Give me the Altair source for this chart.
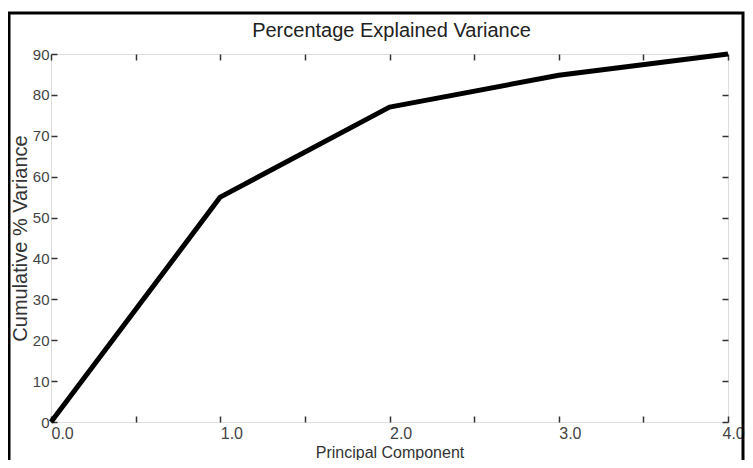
import altair as alt
import pandas as pd

# Data
components = [0, 1, 2, 3, 4]
cum_variance = [0, 55, 77, 84.8, 90]
x_tick_values = [0, 0.5, 1, 1.5, 2, 2.5, 3, 3.5, 4]
y_tick_values = [0, 10, 20, 30, 40, 50, 60, 70, 80, 90]
chart_title = ["Percentage Explained Variance"]

df = pd.DataFrame({"pc": components, "cv": cum_variance})

W, H = 677, 368
FONT = "Liberation Sans"
LABEL_COLOR = "#444444"
AXIS_COLOR = "#333333"

xs = alt.Scale(domain=[0, 4], nice=False, zero=False)
ys = alt.Scale(domain=[0, 90], nice=False)

base = alt.Chart(df)

line = base.mark_line(color="black", strokeWidth=5, strokeJoin="round").encode(
    x=alt.X("pc:Q", scale=xs, axis=alt.Axis(
        orient="bottom", values=x_tick_values,
        labelExpr="datum.value % 1 == 0 ? format(datum.value, '.1f') : ''",
        labelOverlap=False, ticks=False, domain=False, grid=False,
        labelFontSize=16, labelColor=LABEL_COLOR, labelFont=FONT, labelPadding=3,
        labelFlush=False, labelAlign="left",
        labelOffset={"condition": {"test": "datum.value == 4", "value": -6}, "value": 0},
        title="Principal Component", titleFontSize=16, titleFont=FONT,
        titleFontWeight="normal", titleColor="#333333", titlePadding=3)),
    y=alt.Y("cv:Q", scale=ys, axis=alt.Axis(
        orient="left", values=y_tick_values, ticks=False, domain=False, grid=False,
        labelFontSize=15, labelColor=LABEL_COLOR, labelFont=FONT, labelPadding=2,
        labelFlush=False, labelOverlap=False,
        title="Cumulative % Variance", titleFontSize=20, titleFont=FONT,
        titleFontWeight="normal", titleColor="#333333", titlePadding=2)),
)

tick_style = dict(labels=False, domain=False, grid=False, ticks=True, tickSize=6,
                  tickColor=AXIS_COLOR, tickWidth=1.5, title=None)

# inward ticks on bottom and left edges
ticks_a = base.mark_line(opacity=0).encode(
    x=alt.X("pc:Q", scale=xs, axis=alt.Axis(orient="top", offset=-H,
                                             values=x_tick_values, **tick_style)),
    y=alt.Y("cv:Q", scale=ys, axis=alt.Axis(orient="right", offset=-W,
                                             values=y_tick_values, **tick_style)),
)

# inward ticks on top and right edges
ticks_b = base.mark_line(opacity=0).encode(
    x=alt.X("pc:Q", scale=xs, axis=alt.Axis(orient="bottom", offset=-H,
                                             values=x_tick_values, **tick_style)),
    y=alt.Y("cv:Q", scale=ys, axis=alt.Axis(orient="left", offset=-W,
                                             values=y_tick_values, **tick_style)),
)

frame = alt.Chart(pd.DataFrame({"k": [0]})).mark_rect(
    filled=False, stroke="black", strokeWidth=3, clip=False
).encode(
    x=alt.value(-42), x2=alt.value(692), y=alt.value(-41), y2=alt.value(412)
)

title_text = alt.Chart(pd.DataFrame({"t": chart_title})).mark_text(
    font=FONT, fontSize=20, color="#222222", align="center",
    baseline="alphabetic", clip=False
).encode(text="t:N", x=alt.value(W / 2 + 2), y=alt.value(-17))

chart = alt.layer(line, ticks_a, ticks_b, frame, title_text).resolve_axis(
    x="independent", y="independent"
).properties(
    width=W, height=H,
    autosize=alt.AutoSizeParams(type="none"),
    padding={"left": 43, "top": 46, "right": 17, "bottom": 38},
).configure_view(
    stroke=AXIS_COLOR, strokeWidth=1.5
).configure(background="white")

chart.save("out.html", embed_options={"renderer": "svg", "actions": False})
